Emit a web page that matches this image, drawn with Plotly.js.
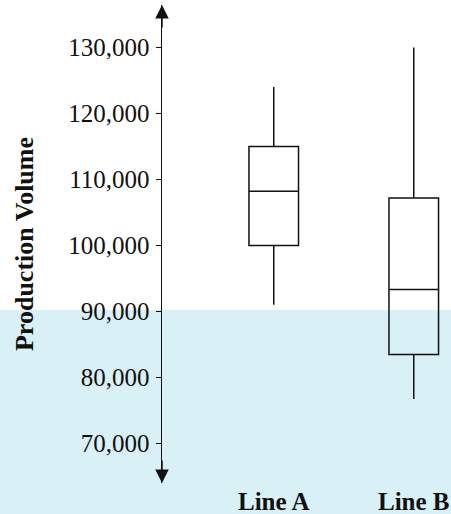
<!DOCTYPE html>
<html>
<head>
<meta charset="utf-8">
<script src="https://cdn.plot.ly/plotly-3.0.1.min.js"></script>
<style>
  html, body { margin: 0; padding: 0; }
  body { width: 451px; height: 514px; background: linear-gradient(to bottom, #ffffff 0px, #ffffff 310px, #d9f0f6 310px, #d9f0f6 514px); }
  #chart { width: 451px; height: 514px; }
</style>
</head>
<body>
<div id="chart"></div>
<script>
// Data
const categories = ['Line A', 'Line B'];
const lowerWhisker = [91000, 76700];
const q1Values = [100000, 83450];
const medianValues = [108200, 93300];
const q3Values = [115000, 107200];
const upperWhisker = [124000, 130000];
const yTickValues = [70000, 80000, 90000, 100000, 110000, 120000, 130000];
const yTickLabels = ['70,000', '80,000', '90,000', '100,000', '110,000', '120,000', '130,000'];
const yTitle = 'Production Volume';

const yRange = [63982, 136442];
const serif = 'Liberation Serif, Times New Roman, serif';

const trace = {
  type: 'box',
  x: categories,
  q1: q1Values,
  median: medianValues,
  q3: q3Values,
  lowerfence: lowerWhisker,
  upperfence: upperWhisker,
  width: 0.354,
  fillcolor: 'rgba(0,0,0,0)',
  line: { color: '#111111', width: 1.5 },
  whiskerwidth: 0,
  boxpoints: false,
  hoverinfo: 'skip',
  showlegend: false
};

const layout = {
  width: 451,
  height: 514,
  margin: { l: 162, r: 0, t: 5, b: 31, pad: 0 },
  paper_bgcolor: 'rgba(0,0,0,0)',
  plot_bgcolor: 'rgba(0,0,0,0)',
  showlegend: false,
  font: { family: serif, color: '#111111' },
  xaxis: {
    type: 'category',
    range: [-0.798, 1.266],
    showgrid: false,
    zeroline: false,
    showline: false,
    ticks: '',
    ticklabelstandoff: 1,
    tickfont: { family: serif, size: 25, weight: 'bold', color: '#111111' },
    fixedrange: true
  },
  yaxis: {
    range: yRange,
    tickmode: 'array',
    tickvals: yTickValues,
    ticktext: yTickLabels,
    showgrid: false,
    zeroline: false,
    showline: true,
    linecolor: '#111111',
    linewidth: 1.5,
    ticks: 'outside',
    ticklen: 5,
    tickwidth: 1.3,
    tickcolor: '#111111',
    ticklabelstandoff: 1,
    tickfont: { family: serif, size: 25, color: '#111111' },
    title: { text: yTitle, font: { family: serif, size: 26, weight: 'bold', color: '#111111' }, standoff: 27 },
    automargin: false,
    fixedrange: true
  },
  yaxis2: {
    overlaying: 'y',
    anchor: 'x',
    side: 'left',
    range: yRange,
    tickmode: 'array',
    tickvals: yTickValues,
    showticklabels: false,
    showgrid: false,
    zeroline: false,
    showline: false,
    ticks: 'inside',
    ticklen: 5,
    tickwidth: 1.3,
    tickcolor: '#111111',
    fixedrange: true
  },
  annotations: [
    { xref: 'paper', yref: 'paper', x: 0, y: 1, ax: 0, ay: 24, text: '', showarrow: true,
      arrowhead: 2, arrowsize: 1.8, arrowwidth: 1.5, arrowcolor: '#111111' },
    { xref: 'paper', yref: 'paper', x: 0, y: 0, ax: 0, ay: -24, text: '', showarrow: true,
      arrowhead: 2, arrowsize: 1.8, arrowwidth: 1.5, arrowcolor: '#111111' }
  ]
};

Plotly.newPlot('chart', [trace], layout, { staticPlot: true, displayModeBar: false });
</script>
</body>
</html>
